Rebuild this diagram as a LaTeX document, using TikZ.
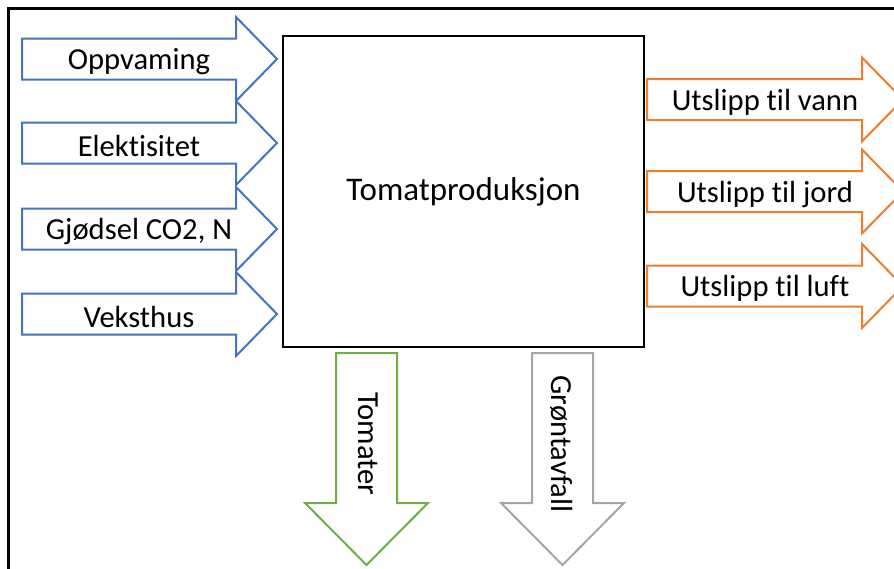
\documentclass[tikz,border=0pt]{standalone}
\usepackage{fontspec}
\setmainfont{Carlito}[Ligatures=NoCommon]
\definecolor{flowBlue}{RGB}{68,114,196}
\definecolor{flowOrange}{RGB}{237,125,49}
\definecolor{flowGreen}{RGB}{112,173,71}
\definecolor{flowGray}{RGB}{165,165,165}

\begin{document}
\begin{tikzpicture}[x=0.5pt,y=-0.5pt,
    inflow/.style={draw=flowBlue,line width=1pt,line join=miter},
    outflow/.style={draw=flowOrange,line width=1pt,line join=miter},
    product/.style={draw=flowGreen,line width=1pt,line join=miter},
    waste/.style={draw=flowGray,line width=1pt,line join=miter},
    flowlabel/.style={font=\fontsize{15.3}{18}\selectfont,inner sep=0pt},
    process/.style={draw=black,line width=1.3pt,minimum width=180.5pt,
                    minimum height=155.5pt,font=\fontsize{16.5}{20}\selectfont}
]
\useasboundingbox (0,0) rectangle (894,568);
\clip (0,0) rectangle (894,568);
% outer frame
\draw[line width=1.5pt] (8,570) -- (8,8) -- (896,8);
% process box
\node[process] (prod) at (463.5,191.5) {Tomatproduksjon};
% inputs
\foreach \yc/\txt/\nm in {59/Oppvaming/heat,143/Elektisitet/power,229/{Gjødsel CO2, N}/fert,314/Veksthus/house}{
    \draw[inflow] (22,\yc-20.5) -- (236,\yc-20.5) -- (236,\yc-42) -- (277,\yc)
        -- (236,\yc+42) -- (236,\yc+20.5) -- (22,\yc+20.5) -- cycle;
    \node[flowlabel] (\nm) at (139,\yc+2.5) {\txt};
}
% emissions
\foreach \yc/\txt/\nm in {99.5/Utslipp til vann/water,191.5/Utslipp til jord/soil,286/Utslipp til luft/air}{
    \draw[outflow] (647,\yc-20.5) -- (862,\yc-20.5) -- (862,\yc-42) -- (903,\yc)
        -- (862,\yc+42) -- (862,\yc+20.5) -- (647,\yc+20.5) -- cycle;
    \node[flowlabel] (\nm) at (765,\yc+2.5) {\txt};
}
% products
\draw[product] (336,353) -- (397,353) -- (397,503) -- (428,503) -- (366.5,565)
    -- (305,503) -- (336,503) -- cycle;
\node[flowlabel,rotate=-90] (tomato) at (368,444) {Tomater};
\draw[waste] (532,353) -- (593,353) -- (593,503) -- (624,503) -- (562.5,565)
    -- (501,503) -- (532,503) -- cycle;
\node[flowlabel,rotate=-90] (green) at (562,444) {Grøntavfall};
\end{tikzpicture}
\end{document}
